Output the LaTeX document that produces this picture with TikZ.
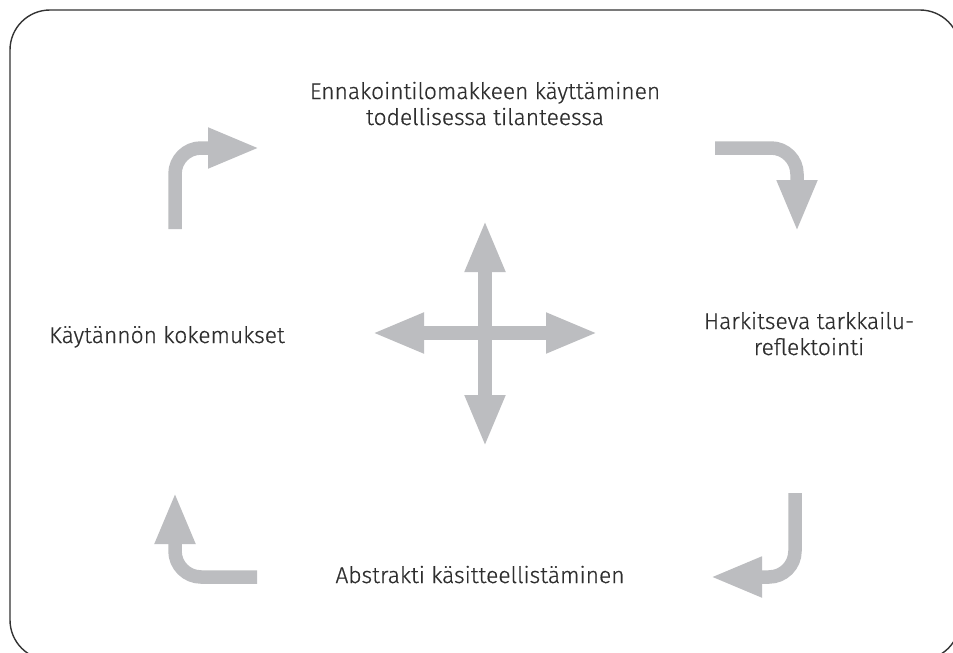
\documentclass[tikz,border=0pt]{standalone}
\usepackage{fontspec}
\setmainfont{Fira Sans}[UprightFont={* Light}, UprightFeatures={FakeBold=0.6}]
\usetikzlibrary{arrows.meta}
\definecolor{arrowgray}{HTML}{BCBDC0}
\definecolor{textgray}{HTML}{2E2E2E}
\definecolor{framegray}{HTML}{333333}
\tikzset{
  bentarrow/.style={draw=arrowgray, line width=13.5pt, rounded corners=26pt,
    -{Triangle[length=52pt,width=37pt]}},
  crossarrow/.style={draw=arrowgray, line width=13.5pt,
    {Triangle[length=52pt,width=37pt]}-{Triangle[length=52pt,width=37pt]}},
  label/.style={text=textgray, inner sep=0pt, align=center,
    font=\fontsize{22.8}{26}\selectfont}
}
\begin{document}
\begin{tikzpicture}[x=1pt,y=-1pt]
\useasboundingbox (0,0) rectangle (953,653);
\fill[white] (0,0) rectangle (953,653);
\clip (0,0) rectangle (953,653);
\draw[framegray, line width=1.4pt, rounded corners=40pt] (10,10) rectangle (960,660);
% bent arrows
\draw[bentarrow] (175,229) -- (175,148) -- (260,148);
\draw[bentarrow] (715,148) -- (797,148) -- (797,232);
\draw[bentarrow] (795,493) -- (795,577) -- (710,577);
\draw[bentarrow] (257,577) -- (175,577) -- (175,492);
% central cross
\draw[crossarrow] (485,220) -- (485,447);
\draw[crossarrow] (372,333) -- (598,333);
% labels (anchor=base is the baseline of the last line)
\node[label, anchor=base] (top) at (485,125) {Ennakointilomakkeen käyttäminen\\todellisessa tilanteessa};
\node[label, anchor=base] (left) at (167,343) {Käytännön kokemukset};
\node[label, anchor=base] (right) at (809,355) {Harkitseva tarkkailu-\\reflektointi};
\node[label, anchor=base] (bottom) at (480,583) {Abstrakti käsitteellistäminen};
\end{tikzpicture}
\end{document}
